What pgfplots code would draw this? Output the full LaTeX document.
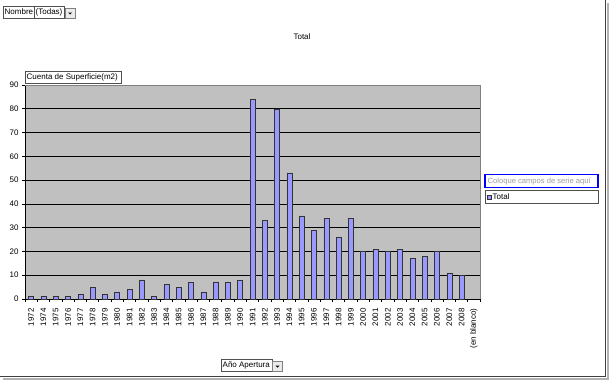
\documentclass[border=0pt]{standalone}
\usepackage{pgfplots}
\pgfplotsset{compat=1.18}
\usepackage{fontspec}
\setmainfont{Liberation Sans}
\definecolor{bgray}{RGB}{192,192,192}
\definecolor{barc}{RGB}{153,153,255}
\definecolor{bordc}{RGB}{80,80,80}
\begin{document}
\begin{tikzpicture}[x=1pt,y=-1pt,font=\fontsize{8}{9.6}\selectfont]
\useasboundingbox (0,0) rectangle (609,380);
\fill[white] (0,0) rectangle (609,380);
\begin{axis}[
  at={(25pt,-299pt)}, anchor=south west,
  scale only axis, width=455pt, height=214pt,
  xmin=-0.5, xmax=36.5, ymin=0, ymax=90,
  axis x line=bottom, axis y line=left,
  axis line style={black,-, line width=0.6pt},
  axis background/.style={fill=bgray},
  ytick={0,10,...,90},
  ymajorgrids, grid style={black, line width=0.6pt},
  xtick={0,...,36},
  xticklabels={1972,1974,1975,1976,1977,1978,1979,1980,1981,1982,1983,1984,1985,1986,1987,1988,1989,1990,1991,1992,1993,1994,1995,1996,1997,1998,1999,2000,2001,2002,2003,2004,2005,2006,2007,2008,(en blanco)},
  xtick style={draw=none},
  ytick style={black, line width=0.6pt},
  tick align=outside, major tick length=3pt,
  xticklabel style={yshift=-3pt, rotate=90, anchor=east, font=\fontsize{8}{9.6}\selectfont},
  yticklabel style={font=\fontsize{8}{9.6}\selectfont},
  /pgf/number format/assume math mode=true,
]
\addplot[ybar, bar width=5pt, fill=barc, draw=black!80, line width=0.5pt]
coordinates {(0,1)(1,1)(2,1)(3,1)(4,2)(5,5)(6,2)(7,3)(8,4)(9,8)(10,1)(11,6)(12,5)(13,7)(14,3)(15,7)(16,7)(17,8)
(18,84)(19,33)(20,80)(21,53)(22,35)(23,29)(24,34)(25,26)(26,34)(27,20)(28,21)(29,20)(30,21)(31,17)(32,18)(33,20)(34,11)(35,10)};
\end{axis}
% plot area top/right border
\draw[gray, line width=0.6pt] (25,85) -- (480,85) -- (480,299);
% category boundary ticks
\foreach \k in {0,...,37} {
  \draw[black, line width=0.6pt] ({25+\k*12.2973},299) -- ({25+\k*12.2973},302);
}
% title
\node at (302,37) {Total};
% page field
\draw[bordc, fill=white, line width=0.7pt] (3,6) rectangle (34,18);
\node[anchor=west, inner sep=0pt] at (4.5,12) {Nombre};
\draw[bordc, fill=white, line width=0.7pt] (34,6) rectangle (64,18);
\node[anchor=west, inner sep=0pt] at (35.5,12) {(Todas)};
\draw[gray, fill=black!8, line width=0.6pt] (65,8) rectangle (75,18);
\fill[black] (68,12.5) -- (72,12.5) -- (70,14.5) -- cycle;
% data field
\draw[bordc, fill=white, line width=0.7pt] (25,71) rectangle (121,83);
\node[anchor=west, inner sep=0pt] at (26.5,77) {Cuenta de Superficie(m2)};
% category field
\draw[bordc, fill=white, line width=0.7pt] (221,359) rectangle (272,371.5);
\node[anchor=west, inner sep=0pt] at (222.5,365.2) {Año Apertura};
\draw[gray, fill=black!8, line width=0.6pt] (272.5,361) rectangle (282.5,371);
\fill[black] (275.5,365.5) -- (279.5,365.5) -- (277.5,367.5) -- cycle;
% series drop zone / legend
\draw[blue, line width=1.1pt, fill=white] (485,174.5) rectangle (598,187.5);
\node[anchor=west, inner sep=0pt, text=black!38, font=\fontsize{7.6}{9}\selectfont] at (487.5,181) {Coloque campos de serie aquí};
\draw[bordc, fill=white, line width=0.7pt] (485,190.5) rectangle (598,203.5);
\draw[black!80, fill=barc, line width=0.4pt] (487,195) rectangle (491,199);
\node[anchor=west, inner sep=0pt] at (492.5,197) {Total};
% outer frame with shadow
\fill[black!30] (606.5,3) rectangle (609,380);
\fill[black!30] (3,377.5) rectangle (609,380);
\draw[black!75, line width=1.3pt] (605.5,0) -- (605.5,376.3) -- (0,376.3);
\end{tikzpicture}
\end{document}
